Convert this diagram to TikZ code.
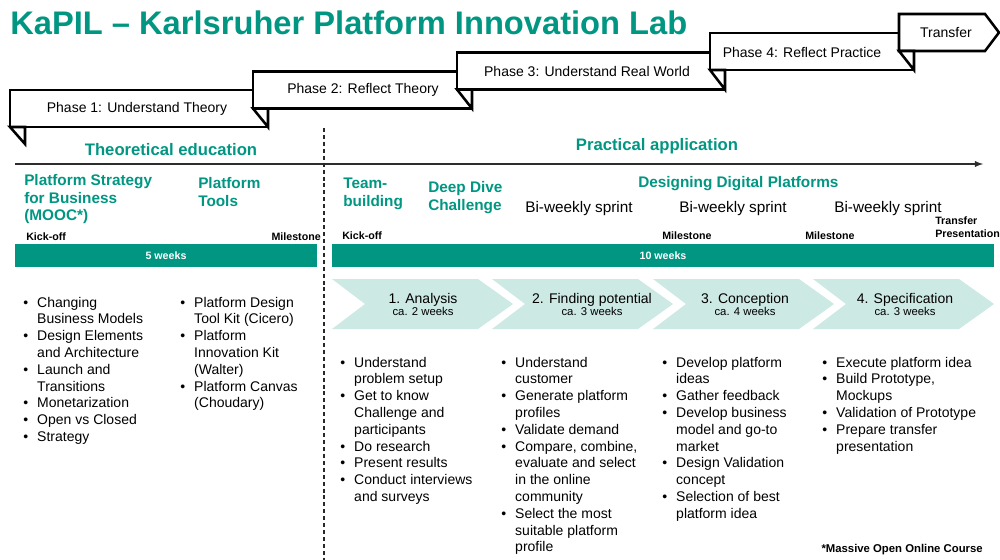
\documentclass[tikz,border=0pt]{standalone}
\usepackage{fontspec}
\setmainfont{Liberation Sans}
\usetikzlibrary{arrows}
\definecolor{kapil}{RGB}{0,150,130}
\definecolor{sprintfill}{RGB}{205,233,228}
\newcommand{\kitem}{\textbullet &}

\begin{document}
\begin{tikzpicture}[
		x=0.75pt, y=-0.75pt,
		phase/.style={draw=black, fill=white, line width=1.9pt, line join=miter},
		phasetext/.style={font=\fontsize{10.5}{12.6}\selectfont, inner sep=0pt},
		heading/.style={text=kapil, font=\fontsize{12.5}{15}\selectfont\bfseries, inner sep=0pt, anchor=base},
		subhead/.style={text=kapil, font=\fontsize{11.5}{13.5}\selectfont\bfseries, inner sep=0pt, anchor=base west},
		sprinttext/.style={font=\fontsize{11.5}{13.8}\selectfont, inner sep=0pt, anchor=base},
		marker/.style={font=\fontsize{8}{9.75}\selectfont\bfseries, inner sep=0pt},
		weekbar/.style={fill=kapil},
		barlabel/.style={text=white, font=\fontsize{8}{9.6}\selectfont\bfseries, inner sep=0pt},
		chevron/.style={fill=sprintfill},
		steptitle/.style={font=\fontsize{10.5}{12.6}\selectfont, inner sep=0pt, anchor=base},
		stepweeks/.style={font=\fontsize{8.5}{10.2}\selectfont, inner sep=0pt, anchor=base},
		bulletcol/.style={font=\fontsize{10.5}{12.6}\selectfont, inner sep=0pt, anchor=base west},
		timeline/.style={>=latex, draw={rgb,255:red,45;green,45;blue,45}, line width=1.1pt, ->},
		divider/.style={draw={rgb,255:red,40;green,40;blue,40}, line width=1pt, dash pattern=on 3pt off 2.2pt}
		]
		\useasboundingbox (0,0) rectangle (1000,560);
		\node[anchor=base west, inner sep=0pt, text=kapil, font=\fontsize{24.5}{29}\selectfont\bfseries] (title) at (10,35) {KaPIL – Karlsruher Platform Innovation Lab};

		% phase ribbons
		\draw[phase] (10,90) rectangle (268,127);
		\draw[phase] (10,127) -- (25,144) -- (25,127) -- cycle;
		\node[phasetext] (phase one) at (137,109) {Phase 1: Understand Theory};
		\draw[phase] (253,71.5) rectangle (472,108.5);
		\draw[phase] (253,108.5) -- (268,127) -- (268,108.5) -- cycle;
		\node[phasetext] (phase two) at (363,90) {Phase 2: Reflect Theory};
		\draw[phase] (457,52.5) rectangle (725,89.5);
		\draw[phase] (457,89.5) -- (472,108.5) -- (472,89.5) -- cycle;
		\node[phasetext] (phase three) at (587,71) {Phase 3: Understand Real World};
		\draw[phase] (710,33) rectangle (914,70);
		\draw[phase] (710,70) -- (725,89.5) -- (725,70) -- cycle;
		\node[phasetext] (phase four) at (802,52) {Phase 4: Reflect Practice};
		\draw[phase] (899,14) -- (985,14) -- (999,32.5) -- (985,51) -- (899,51) -- cycle;
		\draw[phase] (899,51) -- (914,70) -- (914,51) -- cycle;
		\node[phasetext] (transfer) at (946,32.5) {Transfer};

		% timeline and divider
		\coordinate (tl start) at (15,164);
		\coordinate (tl end) at (983,164);
		\draw[timeline] (tl start) -- (tl end);
		\coordinate (div top) at (324,128);
		\coordinate (div bottom) at (324,560);
		\draw[divider] (div top) -- (div bottom);

		\node[heading] (theory) at (171,156) {Theoretical education};
		\node[heading] (practice) at (657,151) {Practical application};

		\node[subhead] (mooc) at (24,185) {\begin{tabular}[t]{@{}l@{}}Platform Strategy\\for Business\\(MOOC*)\end{tabular}};
		\node[subhead] (tools) at (198,188) {\begin{tabular}[t]{@{}l@{}}Platform\\Tools\end{tabular}};
		\node[subhead] (team) at (343,188) {\begin{tabular}[t]{@{}l@{}}Team-\\building\end{tabular}};
		\node[subhead] (deep dive) at (428,192) {\begin{tabular}[t]{@{}l@{}}Deep Dive\\Challenge\end{tabular}};
		\node[subhead] (designing) at (638,187) {Designing Digital Platforms};

		\node[sprinttext] (sprint one) at (579,212) {Bi-weekly sprint};
		\node[sprinttext] (sprint two) at (733,212) {Bi-weekly sprint};
		\node[sprinttext] (sprint three) at (888,212) {Bi-weekly sprint};

		% milestones
		\node[marker, anchor=base west] (kick theory) at (26,240) {Kick-off};
		\node[marker, anchor=base east] (ms theory) at (321,240) {Milestone};
		\node[marker, anchor=base west] (kick practice) at (342,239) {Kick-off};
		\node[marker, anchor=base west] (ms one) at (662,239) {Milestone};
		\node[marker, anchor=base west] (ms two) at (805,239) {Milestone};
		\node[marker, anchor=base west] (final) at (935,224) {\begin{tabular}[t]{@{}l@{}}Transfer\\Presentation\end{tabular}};

		% duration bars
		\path[weekbar] (15,244) rectangle (317,267);
		\node[barlabel] (five weeks) at (166,255.5) {5 weeks};
		\path[weekbar] (332,244) rectangle (994,267);
		\node[barlabel] (ten weeks) at (663,255.5) {10 weeks};

		% sprint chevrons
		\path[chevron] (332,279) -- (478,279) -- (513,304) -- (478,329) -- (332,329) -- (365,304) -- cycle;
		\path[chevron] (492,279) -- (638,279) -- (673,304) -- (638,329) -- (492,329) -- (525,304) -- cycle;
		\path[chevron] (653,279) -- (799,279) -- (834,304) -- (799,329) -- (653,329) -- (686,304) -- cycle;
		\path[chevron] (813,279) -- (959,279) -- (994,304) -- (959,329) -- (813,329) -- (846,304) -- cycle;
		\node[steptitle] (analysis) at (423,303) {1. Analysis};
		\node[stepweeks] (analysis wk) at (423,315) {ca. 2 weeks};
		\node[steptitle] (potential) at (592,303) {2. Finding potential};
		\node[stepweeks] (potential wk) at (592,315) {ca. 3 weeks};
		\node[steptitle] (conception) at (745,303) {3. Conception};
		\node[stepweeks] (conception wk) at (745,315) {ca. 4 weeks};
		\node[steptitle] (specification) at (905,303) {4. Specification};
		\node[stepweeks] (specification wk) at (905,315) {ca. 3 weeks};

		% bullet lists
		\node[bulletcol] (mooc list) at (23,307) {\begin{tabular}[t]{@{}l@{\hspace{6.8pt}}l@{}}
			\kitem Changing\\ & Business Models\\
			\kitem Design Elements\\ & and Architecture\\
			\kitem Launch and\\ & Transitions\\
			\kitem Monetarization\\
			\kitem Open vs Closed\\
			\kitem Strategy
		\end{tabular}};
		\node[bulletcol] (tools list) at (180,307) {\begin{tabular}[t]{@{}l@{\hspace{6.8pt}}l@{}}
			\kitem Platform Design\\ & Tool Kit (Cicero)\\
			\kitem Platform\\ & Innovation Kit\\ & (Walter)\\
			\kitem Platform Canvas\\ & (Choudary)
		\end{tabular}};
		\node[bulletcol] (analysis list) at (340,367) {\begin{tabular}[t]{@{}l@{\hspace{6.8pt}}l@{}}
			\kitem Understand\\ & problem setup\\
			\kitem Get to know\\ & Challenge and\\ & participants\\
			\kitem Do research\\
			\kitem Present results\\
			\kitem Conduct interviews\\ & and surveys
		\end{tabular}};
		\node[bulletcol] (potential list) at (501,367) {\begin{tabular}[t]{@{}l@{\hspace{6.8pt}}l@{}}
			\kitem Understand\\ & customer\\
			\kitem Generate platform\\ & profiles\\
			\kitem Validate demand\\
			\kitem Compare, combine,\\ & evaluate and select\\ & in the online\\ & community\\
			\kitem Select the most\\ & suitable platform\\ & profile
		\end{tabular}};
		\node[bulletcol] (conception list) at (662,367) {\begin{tabular}[t]{@{}l@{\hspace{6.8pt}}l@{}}
			\kitem Develop platform\\ & ideas\\
			\kitem Gather feedback\\
			\kitem Develop business\\ & model and go-to\\ & market\\
			\kitem Design Validation\\ & concept\\
			\kitem Selection of best\\ & platform idea
		\end{tabular}};
		\node[bulletcol] (specification list) at (822,367) {\begin{tabular}[t]{@{}l@{\hspace{6.8pt}}l@{}}
			\kitem Execute platform idea\\
			\kitem Build Prototype,\\ & Mockups\\
			\kitem Validation of Prototype\\
			\kitem Prepare transfer\\ & presentation
		\end{tabular}};

		\node[marker, font=\fontsize{8.5}{10}\selectfont\bfseries, anchor=base east] (footnote) at (983,552) {*Massive Open Online Course};
	\end{tikzpicture}
\end{document}
